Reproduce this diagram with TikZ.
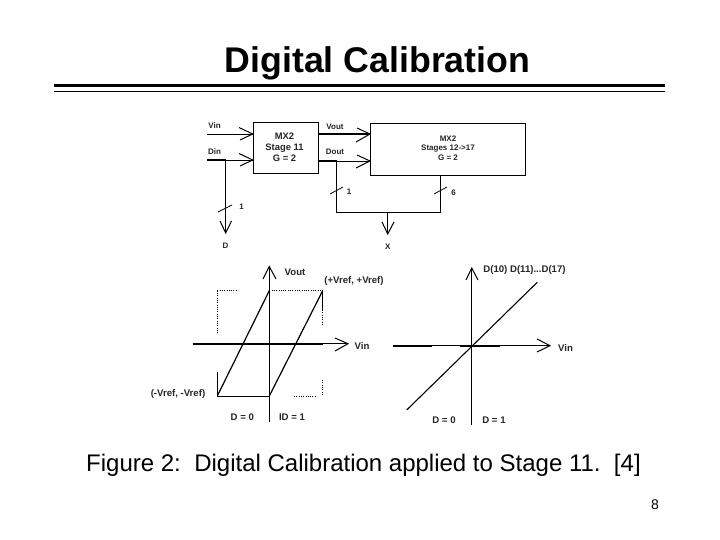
\documentclass[tikz,border=0pt]{standalone}
\usepackage{fontspec}
\setmainfont{Liberation Sans}
\tikzset{
  x=1pt,y=-1pt,
  block/.style={draw=black,line width=1pt,fill=white,inner sep=0pt,anchor=north west},
  lab/.style={inner sep=0pt,font=\fontsize{8}{9.5}\selectfont\bfseries,text=black!85},
  biglab/.style={inner sep=0pt,font=\fontsize{9.6}{11}\selectfont\bfseries,text=black!85},
  wirex/.style={line width=.8pt},
  thickwirex/.style={line width=2pt},
  barb/.style={line width=1pt,line join=miter},
  slashx/.style={line width=.8pt},
  dotsx/.style={line width=.6pt,dash pattern=on 1pt off 1.3pt},
  tracex/.style={line width=1.2pt},
  thinx/.style={line width=.7pt}
}
\begin{document}
\begin{tikzpicture}
\useasboundingbox (0,0) rectangle (720,540);
\node[inner sep=0pt,font=\fontsize{35.7}{40}\selectfont\bfseries] (title) at (377.5,63.5) {Digital Calibration};
\coordinate (r1a) at (54,85.5); \coordinate (r1b) at (665,85.5);
\coordinate (r2a) at (54,91.5); \coordinate (r2b) at (665,91.5);
\draw[line width=3pt] (r1a) -- (r1b);
\draw[line width=1.2pt] (r2a) -- (r2b);
% blocks
\node[block,minimum width=65.5pt,minimum height=51pt] (s11) at (252.7,121.7) {};
\node[block,line width=1.3pt,minimum width=155pt,minimum height=52pt] (s12) at (370,123) {};
\node[inner sep=0pt,align=center,font=\fontsize{9.4}{11}\selectfont\bfseries,text=black!85] (s11t) at (284.5,147) {MX2\\Stage 11\\G = 2};
\node[lab,align=center] (s12t) at (448,148) {MX2\\Stages 12->17\\G = 2};
\coordinate (vin) at (207,134); \coordinate (din) at (207,160);
\coordinate (vo) at (318.2,134); \coordinate (vi2) at (370,134);
\coordinate (do) at (318.2,161); \coordinate (di2) at (370,161);
\coordinate (dj) at (225.7,160); \coordinate (dend) at (225.7,233);
\coordinate (oj) at (336.7,161); \coordinate (ob) at (336.7,212.5);
\coordinate (g1) at (440,175); \coordinate (gb) at (440,212.5);
\coordinate (xj) at (387.7,212.5); \coordinate (xend) at (387.7,234);
\coordinate (s11v) at (252.7,134); \coordinate (s11d) at (252.7,160);
\draw[wirex] (vin) -- (s11v);
\draw[barb] (239,127.5) -- (s11v) -- (240,140);
\draw[thickwirex] (din) -- (dj);
\draw[wirex] (dj) -- (s11d);
\draw[barb] (239,153.5) -- (s11d) -- (240,166);
\draw[wirex] (dj) -- (dend);
\draw[barb] (220,221) -- (dend) -- (231.5,221);
\draw[line width=1.8pt] (vo) -- (vi2);
\draw[barb] (357,128) -- (vi2) -- (356,142);
\draw[wirex] (oj) -- (di2);
\draw[barb] (357,155) -- (di2) -- (356,168);
\draw[thickwirex] (do) -- (oj);
\draw[wirex] (oj) -- (ob) -- (gb) -- (g1);
\draw[line width=1.4pt] (xj) -- (xend);
\draw[barb] (382,222) -- (xend) -- (394,222);
% slashes
\draw[slashx] (218,212) -- (232,205);
\draw[slashx] (330,194) -- (343,187);
\draw[slashx] (434,194) -- (447,187);
% labels
\node[lab] (lvin) at (214.5,126) {Vin};
\node[lab] (ldin) at (214.5,152) {Din};
\node[lab] (lvout) at (335,127) {Vout};
\node[lab] (ldout) at (335,152) {Dout};
\node[lab] (l1a) at (241.5,207) {1};
\node[lab] (l1b) at (349,192) {1};
\node[lab] (l6) at (453.5,192.5) {6};
\node[lab] (ld) at (225.5,245.5) {D};
\node[lab] (lx) at (387.7,247) {X};
% left graph
\coordinate (ya) at (269.3,266.5); \coordinate (yb) at (269.3,422);
\coordinate (xa) at (192.7,343.7); \coordinate (xb) at (348,343.7); \coordinate (xc) at (322.7,343.7);
\draw[line width=1.3pt] (yb) -- (ya);
\draw[barb] (263,279) -- (ya) -- (276,279);
\draw[line width=.7pt] (xa) -- (xb);
\draw[barb] (335,338) -- (xb) -- (335,351);
\draw[line width=2pt] (xa) -- (xc);
\coordinate (bl) at (217.3,396); \coordinate (tl) at (217.3,290.7);
\coordinate (tr) at (322.7,290.7); \coordinate (br) at (322.7,396);
\coordinate (tm) at (269.3,290.7); \coordinate (bm) at (269.3,396);
\draw[tracex] (bl) -- (tm);
\draw[tracex] (bm) -- (tr);
\draw[thinx] (bl) -- (bm);
\draw[dotsx] (tm) -- (tr);
\draw[dotsx] (tl) -- (238,290.7);
\draw[dotsx] (tl) -- (217.3,334);
\draw[thinx] (bl) -- (217.3,372);
\draw[thinx] (tr) -- (322.7,310);
\draw[dotsx] (322.7,310) -- (322.7,326);
\draw[dotsx] (322.7,380) -- (br);
\draw[dotsx] (294,396) -- (317,396);
\node[biglab] (lvout2) at (295,272.5) {Vout};
\node[biglab] (lref1) at (354,281) {(+Vref, +Vref)};
\node[biglab] (lvin2) at (362,346.5) {Vin};
\node[biglab] (lref2) at (178,394) {(-Vref, -Vref)};
\node[biglab] (ld0) at (242.3,417) {D = 0};
\node[biglab] (ld1) at (292,417) {ID = 1};
% right graph
\coordinate (ya2) at (471.7,268); \coordinate (yb2) at (471.7,425);
\coordinate (xa2) at (393,345.7); \coordinate (xb2) at (550,345.7);
\coordinate (da) at (406.7,410); \coordinate (db) at (537.3,282.3);
\coordinate (t1) at (431.7,345.7); \coordinate (t2) at (460,345.7); \coordinate (t3) at (500,345.7);
\draw[line width=1.3pt] (yb2) -- (ya2);
\draw[barb] (466,280) -- (ya2) -- (478,280);
\draw[line width=.7pt] (xa2) -- (xb2);
\draw[barb] (537,339) -- (xb2) -- (537,352);
\draw[line width=1.6pt] (xa2) -- (t1);
\draw[line width=1.6pt] (t2) -- (t3);
\draw[line width=1.1pt] (da) -- (db);
\node[biglab] (lq) at (524.5,270) {D(10) D(11)...D(17)};
\node[biglab] (lvin3) at (565.5,348) {Vin};
\node[biglab] (le0) at (444,420) {D = 0};
\node[biglab] (le1) at (494,420) {D = 1};
% caption
\node[inner sep=0pt,font=\fontsize{24}{28}\selectfont] (cap) at (363.5,465) {Figure 2:\ \ Digital Calibration applied to Stage 11.\ \ [4]};
\node[inner sep=0pt,font=\fontsize{14}{16}\selectfont] (pg) at (655,505) {8};
\end{tikzpicture}
\end{document}
